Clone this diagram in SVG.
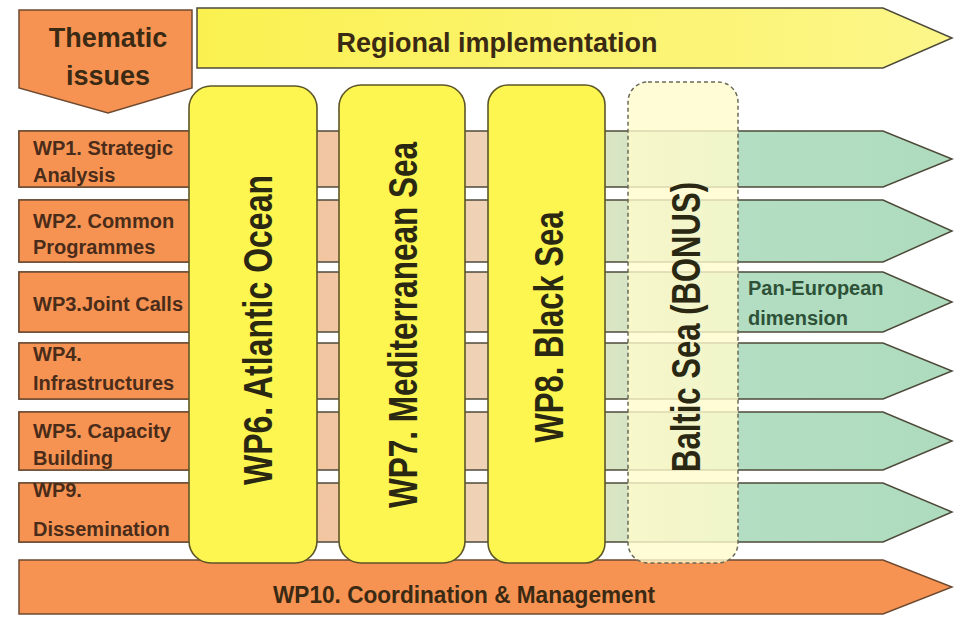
<svg xmlns="http://www.w3.org/2000/svg" width="954" height="617" viewBox="0 0 954 617">
<defs>
<linearGradient id="rowGrad" gradientUnits="userSpaceOnUse" x1="18" y1="0" x2="952" y2="0">
<stop offset="0" stop-color="#f79252"/>
<stop offset="0.184" stop-color="#f79a5c"/>
<stop offset="0.2" stop-color="#f4bb92"/>
<stop offset="0.36" stop-color="#f2c8a6"/>
<stop offset="0.5" stop-color="#efd3b6"/>
<stop offset="0.64" stop-color="#d9e5c4"/>
<stop offset="0.76" stop-color="#b4dec3"/>
<stop offset="1" stop-color="#aedbbd"/>
</linearGradient>
<linearGradient id="yelGrad" gradientUnits="userSpaceOnUse" x1="197" y1="0" x2="952" y2="0">
<stop offset="0" stop-color="#faf150"/>
<stop offset="1" stop-color="#fcf68a"/>
</linearGradient>
<style>
.row{fill:url(#rowGrad);stroke:#4d4a3a;stroke-width:1.5}
.orange{fill:#f79352;stroke:#6e4a30;stroke-width:1.5}
.col{fill:#fdf550;stroke:#5c5628;stroke-width:1.6}
.colb{fill:#fffbcc;fill-opacity:0.8;stroke:#6a6a58;stroke-width:1.5;stroke-dasharray:4 3}
.wp{font-family:"Liberation Sans",Arial,sans-serif;font-weight:bold;font-size:20px;fill:#4a2c1a}
.big{font-family:"Liberation Sans",Arial,sans-serif;font-weight:bold;fill:#3a2a14}
.vert{font-family:"Liberation Sans",Arial,sans-serif;font-weight:bold;font-size:40px;fill:#2a2812;text-anchor:middle}
.pan{font-family:"Liberation Sans",Arial,sans-serif;font-weight:bold;font-size:20px;fill:#2d5238}
</style>
</defs>
<rect width="954" height="617" fill="#ffffff"/>

<g id="thematic">
<polygon class="orange" points="19,10 192,10 192,88 108,113 19,88"/>
<text class="big" x="108" y="47" font-size="27" text-anchor="middle">Thematic</text>
<text class="big" x="108" y="85" font-size="27" text-anchor="middle">issues</text>
</g>

<g id="regional">
<polygon points="197,8 883,8 952,38 883,68 197,68" fill="url(#yelGrad)" stroke="#4d4a3a" stroke-width="1.5"/>
<text class="big" x="497" y="52" font-size="27" text-anchor="middle">Regional implementation</text>
</g>

<g id="connectors">
<polygon class="row" points="19,131 883,131 952,159 883,187 19,187"/>
<polygon class="row" points="19,200 883,200 952,231 883,262 19,262"/>
<polygon class="row" points="19,272 883,272 952,302 883,332 19,332"/>
<polygon class="row" points="19,343 883,343 952,371 883,399 19,399"/>
<polygon class="row" points="19,412 883,412 952,441 883,470 19,470"/>
<polygon class="row" points="19,483 883,483 952,512 883,542 19,542"/>
</g>

<g id="wp1"><rect class="orange" x="19" y="131" width="171" height="56"/>
<text class="wp" x="33" y="155">WP1. Strategic</text><text class="wp" x="33" y="182">Analysis</text></g>
<g id="wp2"><rect class="orange" x="19" y="200" width="171" height="62"/>
<text class="wp" x="33" y="228">WP2. Common</text><text class="wp" x="33" y="254">Programmes</text></g>
<g id="wp3"><rect class="orange" x="19" y="272" width="171" height="60"/>
<text class="wp" x="33" y="311">WP3.Joint Calls</text></g>
<g id="wp4"><rect class="orange" x="19" y="343" width="171" height="56"/>
<text class="wp" x="33" y="361">WP4.</text><text class="wp" x="33" y="390">Infrastructures</text></g>
<g id="wp5"><rect class="orange" x="19" y="412" width="171" height="58"/>
<text class="wp" x="33" y="438">WP5. Capacity</text><text class="wp" x="33" y="465">Building</text></g>
<g id="wp9"><rect class="orange" x="19" y="483" width="171" height="59"/>
<text class="wp" x="33" y="497">WP9.</text><text class="wp" x="33" y="536">Dissemination</text></g>

<g id="pan">
<text class="pan" x="748" y="295">Pan-European</text>
<text class="pan" x="748" y="325">dimension</text>
</g>

<g id="wp10">
<polygon class="orange" points="19,560 883,560 952,587 883,614 19,614"/>
<text class="big" x="464" y="603" font-size="24" text-anchor="middle" textLength="382" lengthAdjust="spacingAndGlyphs">WP10. Coordination &amp; Management</text>
</g>

<g id="wp6"><rect class="col" x="189" y="86" width="128" height="477" rx="22"/>
<text class="vert" transform="translate(272,330) rotate(-90)" textLength="310" lengthAdjust="spacingAndGlyphs">WP6. Atlantic Ocean</text></g>
<g id="wp7"><rect class="col" x="339" y="85" width="126" height="478" rx="22"/>
<text class="vert" transform="translate(417,325) rotate(-90)" textLength="366" lengthAdjust="spacingAndGlyphs">WP7. Mediterranean Sea</text></g>
<g id="wp8"><rect class="col" x="488" y="85" width="117" height="478" rx="20"/>
<text class="vert" transform="translate(563,327) rotate(-90)" textLength="231" lengthAdjust="spacingAndGlyphs">WP8. Black Sea</text></g>
<g id="baltic"><rect class="colb" x="628" y="82" width="110" height="481" rx="20"/>
<text class="vert" transform="translate(700,327) rotate(-90)" textLength="290" lengthAdjust="spacingAndGlyphs">Baltic Sea (BONUS)</text></g>
</svg>
